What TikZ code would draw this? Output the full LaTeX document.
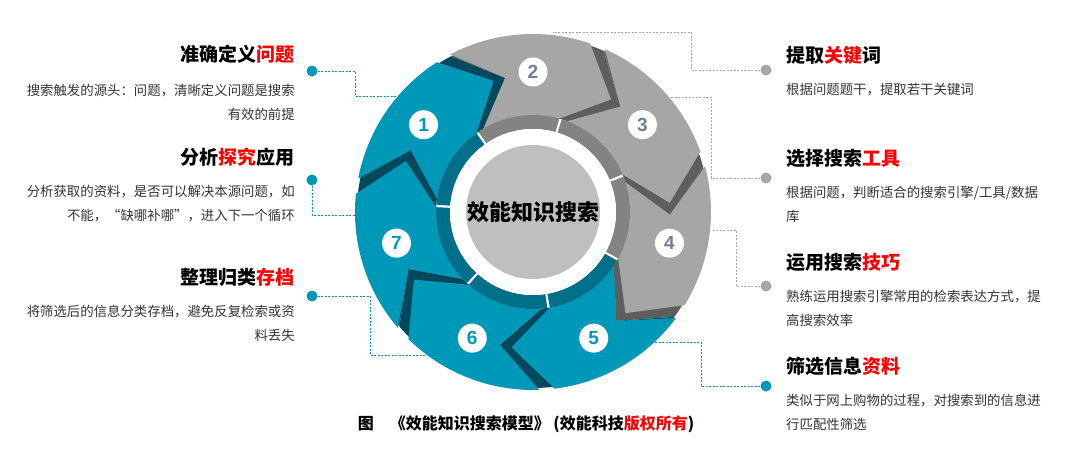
\documentclass[tikz,border=0pt]{standalone}
\usepackage{fontspec}
\setmainfont{Noto Sans CJK SC}
\newfontfamily\numfont{Liberation Sans}
\definecolor{tealA}{HTML}{0098B9}
\definecolor{tealD}{HTML}{00495C}
\definecolor{tealM}{HTML}{00708A}
\definecolor{greyA}{HTML}{A6A6A6}
\definecolor{greyD}{HTML}{5E5E5E}
\definecolor{greyM}{HTML}{838383}
\definecolor{numg}{HTML}{6E7E94}
\definecolor{redT}{HTML}{FF0000}
\definecolor{bodyT}{HTML}{333333}
\begin{document}
\begin{tikzpicture}[x=1pt,y=-1pt,
  title/.style={font=\fontsize{19}{21}\selectfont\bfseries, inner sep=0pt},
  bodyL/.style={font=\fontsize{13.4}{24}\selectfont, text=bodyT, align=right, inner sep=0pt},
  bodyR/.style={font=\fontsize{13.4}{24}\selectfont, text=bodyT, align=left, inner sep=0pt},
  dotT/.style={circle, fill=tealA, minimum size=11pt, inner sep=0pt},
  dotG/.style={circle, fill=greyA, minimum size=11pt, inner sep=0pt},
  leadT/.style={draw=tealA, line width=0.8pt, dash pattern=on 2pt off 1.5pt},
  leadG/.style={draw=greyA, line width=0.8pt, dash pattern=on 2pt off 1.5pt},
  numc/.style={circle, fill=white, minimum size=29pt, inner sep=0pt, font=\numfont\fontsize{19}{19}\selectfont\bfseries}]
\useasboundingbox (0,0) rectangle (1080,458);
% left texts
\node[title, anchor=east] (t1) at (295,54) {准确定义\textcolor{redT}{问题}};
\node[bodyL, anchor=north east] (b1) at (295,84) {搜索触发的源头：问题，清晰定义问题是搜索\\有效的前提};
\node[title, anchor=east] (t2) at (295,157) {分析\textcolor{redT}{探究}应用};
\node[bodyL, anchor=north east] (b2) at (295,185) {分析获取的资料，是否可以解决本源问题，如\\不能，“缺哪补哪”，进入下一个循环};
\node[title, anchor=east] (t3) at (295,277) {整理归类\textcolor{redT}{存档}};
\node[bodyL, anchor=north east] (b3) at (295,305) {将筛选后的信息分类存档，避免反复检索或资\\料丢失};
% right texts
\node[title, anchor=west] (t4) at (786,55) {提取\textcolor{redT}{关键}词};
\node[bodyR, anchor=north west] (b4) at (786,83) {根据问题题干，提取若干关键词};
\node[title, anchor=west] (t5) at (786,158) {选择搜索\textcolor{redT}{工具}};
\node[bodyR, anchor=north west] (b5) at (786,186) {根据问题，判断适合的搜索引擎/工具/数据\\库};
\node[title, anchor=west] (t6) at (786,262) {运用搜索\textcolor{redT}{技巧}};
\node[bodyR, anchor=north west] (b6) at (786,290) {熟练运用搜索引擎常用的检索表达方式，提\\高搜索效率};
\node[title, anchor=west] (t7) at (786,366) {筛选信息\textcolor{redT}{资料}};
\node[bodyR, anchor=north west] (b7) at (786,394) {类似于网上购物的过程，对搜索到的信息进\\行匹配性筛选};
% dots
\node[dotT] (d1) at (312,71) {};
\node[dotT] (d2) at (312,180) {};
\node[dotT] (d3) at (312,296) {};
\node[dotG] (d4) at (766,70) {};
\node[dotG] (d5) at (766,178) {};
\node[dotG] (d6) at (766,286) {};
\node[dotT] (d7) at (766,386) {};
\coordinate (e1) at (400,96);
\coordinate (e2) at (360,215);
\coordinate (e3) at (425,355);
\coordinate (e4) at (553,32);
\coordinate (e5) at (670,97);
\coordinate (e6) at (712,230);
\coordinate (e7) at (655,342);
\draw[leadT] (d1) -- (355,71) -- (355,96) -- (e1);
\draw[leadT] (d2) -- (312,215) -- (e2);
\draw[leadT] (d3) -- (370,296) -- (370,355) -- (e3);
\draw[leadG] (d4) -- (691,70) -- (691,32) -- (e4);
\draw[leadG] (d5) -- (711,178) -- (711,97) -- (e5);
\draw[leadG] (d6) -- (736,286) -- (736,230) -- (e6);
\draw[leadT] (d7) -- (701,386) -- (701,342) -- (e7);
% ring
\begin{scope}[shift={(533,212)}, yscale=-1]
  \foreach \k/\dc in {1/tealD,2/greyD,3/greyD,4/greyD,5/tealD,6/tealD,7/tealD}{
    \pgfmathsetmacro\c{90-(\k-2)*360/7}
    \pgfmathsetmacro\T{\c+180/7-5}
    \pgfmathsetmacro\H{\c-180/7-5}
    \fill[\dc] ({\T+7}:176) arc[start angle=\T+7,end angle=\H+7,radius=176] -- ({\H-9}:137) -- ({\H+10}:97) arc[start angle=\H+10,end angle=\T+10,radius=97] -- ({\T-9}:137) -- cycle;
  }
  \foreach \k/\fc/\mc in {1/tealA/tealM,2/greyA/greyM,3/greyA/greyM,4/greyA/greyM,5/tealA/tealM,6/tealA/tealM,7/tealA/tealM}{
    \pgfmathsetmacro\c{90-(\k-2)*360/7}
    \pgfmathsetmacro\T{\c+180/7-5}
    \pgfmathsetmacro\H{\c-180/7}
    \fill[\fc] ({\T+7}:178) arc[start angle=\T+7,end angle=\H+7,radius=178] -- ({\H-9}:137) -- ({\H+10}:97) arc[start angle=\H+10,end angle=\T+10,radius=97] -- ({\T-9}:137) -- cycle;
    \pgfmathsetmacro\A{\c+180/7+10-1.5}
    \pgfmathsetmacro\B{\c-180/7+10}
    \fill[\mc] (\A:97) arc[start angle=\A,end angle=\B,radius=97] -- (\B:83) arc[start angle=\B,end angle=\A,radius=83] -- cycle;
  }
  \fill[white] (0,0) circle[radius=83];
  \node[circle, fill=black!25, minimum size=134pt, inner sep=0pt, font=\fontsize{22}{22}\selectfont\bfseries] (ctr) at (0,0) {效能知识搜索};
  \node[numc, text=tealA] (n1) at ({90+360/7}:140) {1};
  \node[numc, text=numg] (n2) at (90:140) {2};
  \node[numc, text=numg] (n3) at ({90-360/7}:140) {3};
  \node[numc, text=numg] (n4) at ({90-2*360/7}:140) {4};
  \node[numc, text=tealA] (n5) at ({90-3*360/7}:140) {5};
  \node[numc, text=tealA] (n6) at ({90-4*360/7}:140) {6};
  \node[numc, text=tealA] (n7) at ({90-5*360/7}:140) {7};
\end{scope}
\node[font=\fontsize{16}{16}\selectfont\bfseries, inner sep=0pt] (cap) at (526,424) {图\quad《效能知识搜索模型》\ (效能科技\textcolor{redT}{版权所有})};
\end{tikzpicture}
\end{document}
